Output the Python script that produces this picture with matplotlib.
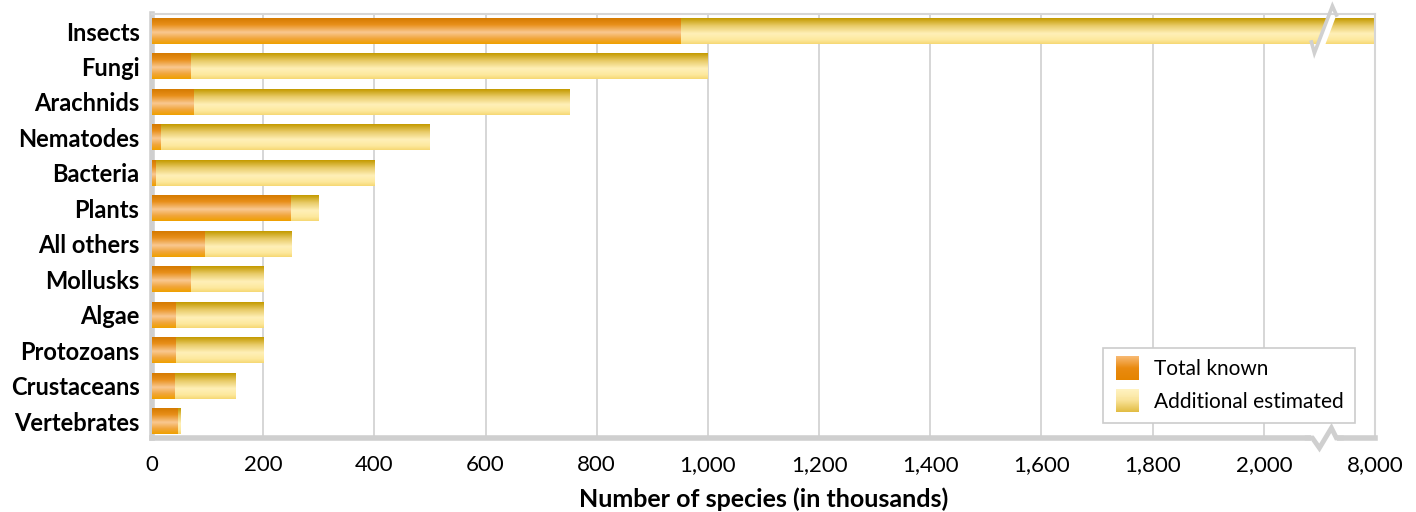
import numpy as np
import matplotlib
matplotlib.use("Agg")
from matplotlib import pyplot as plt
from matplotlib.colors import LinearSegmentedColormap
from matplotlib.patches import Rectangle, Polygon
from matplotlib.legend_handler import HandlerBase
from matplotlib.ticker import FixedLocator

plt.rcParams['font.family'] = ['Lato', 'DejaVu Sans']

groups = ['Insects', 'Fungi', 'Arachnids', 'Nematodes', 'Bacteria', 'Plants',
          'All others', 'Mollusks', 'Algae', 'Protozoans', 'Crustaceans', 'Vertebrates']
known = [950, 70, 75, 15, 6, 250, 95, 70, 43, 43, 41, 46]
total = [8000, 1000, 750, 500, 400, 300, 250, 200, 200, 200, 150, 51]
tick_vals = [0, 200, 400, 600, 800, 1000, 1200, 1400, 1600, 1800, 2000, 8000]

# broken axis: everything above 2000 is squeezed into the last slot
brk_lo, brk_hi, brk_pos = 2000, 8000, 2200


def squash(v):
    v = np.asarray(v, dtype=float)
    return np.where(v <= brk_lo, v, brk_lo + (v - brk_lo) / (brk_hi - brk_lo) * (brk_pos - brk_lo))


orange = LinearSegmentedColormap.from_list('or', [(0, '#d57a00'), (0.25, '#e88f1a'),
                                                  (0.55, '#f9c891'), (0.8, '#f1a53a'),
                                                  (1, '#efa000')])
yellow = LinearSegmentedColormap.from_list('ye', [(0, '#c49a00'), (0.3, '#e9cc6a'),
                                                  (0.6, '#fff0b8'), (0.85, '#fde89c'),
                                                  (1, '#f6d874')])
grad = np.linspace(0, 1, 64).reshape(-1, 1)

fig = plt.figure(figsize=(14.16, 5.12), dpi=100)
ax = fig.add_axes([152 / 1416, 1 - 438 / 512, (1375 - 152) / 1416, (438 - 14) / 512])

h = 0.73
y = np.arange(len(groups))
xk = squash(known)
xt = squash(total)
for i in range(len(groups)):
    ax.imshow(grad, cmap=yellow, aspect='auto', interpolation='bilinear',
              extent=(xk[i], xt[i], y[i] + h / 2, y[i] - h / 2), zorder=2)
    ax.imshow(grad, cmap=orange, aspect='auto', interpolation='bilinear',
              extent=(0, xk[i], y[i] + h / 2, y[i] - h / 2), zorder=3)

ax.set_xlim(0, brk_pos)
ax.set_ylim(11.47, -0.48)
ax.set_yticks(y)
ax.set_yticklabels(groups, fontsize=17, fontweight='bold')
ax.xaxis.set_major_locator(FixedLocator(squash(tick_vals)))
ax.set_xticklabels(['{:,}'.format(v) for v in tick_vals], fontsize=16)
ax.tick_params(axis='x', length=0, pad=12)
ax.tick_params(axis='y', length=0, pad=9)
ax.set_xlabel('Number of species (in thousands)', fontsize=18, fontweight='bold', labelpad=9)

ax.grid(axis='x', color='#d0d0d0', linewidth=1.2, zorder=0)
ax.set_axisbelow(True)
for s in ['top', 'right']:
    ax.spines[s].set_color('#d6d6d6')
    ax.spines[s].set_linewidth(1.5)
for s in ['left', 'bottom']:
    ax.spines[s].set_color('#cfcfcf')
    ax.spines[s].set_linewidth(4)

# break marks, drawn as pixel offsets around the break position
bx = (brk_lo + brk_pos) / 2
fig.canvas.draw()


def offset_points(pts_px, yval):
    base = ax.transData.transform((bx, yval))
    inv = ax.transData.inverted()
    return [inv.transform((base[0] + px, base[1] - py)) for px, py in pts_px]


band = offset_points([(-2.5, 14.5), (8.5, -14.5), (16.5, -14.5), (5.5, 14.5)], 0)
ax.add_patch(Polygon(band, closed=True, facecolor='white', edgecolor='none',
                     zorder=5, clip_on=False))
zig = offset_points([(-8, 11), (-5, 22), (13, -25), (17, -16)], 0)
ax.plot([p[0] for p in zig], [p[1] for p in zig], color='#d0d0d0', linewidth=2.6,
        zorder=6, clip_on=False, solid_joinstyle='miter')

bot_y = ax.get_ylim()[0]
cover = offset_points([(-8, -3), (18, -3), (18, 3), (-8, 3)], bot_y)
ax.add_patch(Polygon(cover, closed=True, facecolor='white', edgecolor='none',
                     zorder=5, clip_on=False))
zb = offset_points([(-12, 0), (-7, 0), (0, 10), (12, -10), (17, 0), (22, 0)], bot_y)
ax.plot([p[0] for p in zb], [p[1] for p in zb], color='#cfcfcf', linewidth=3.5,
        zorder=6, clip_on=False, solid_joinstyle='miter')


class GradHandler(HandlerBase):
    def __init__(self, cmap):
        super().__init__()
        self.cmap = cmap

    def create_artists(self, legend, orig, xd, yd, w, hgt, fontsize, trans):
        arts = []
        n = 24
        side = hgt * 1.6
        x0 = xd + (w - side) / 2
        y0 = yd - (side - hgt) / 2
        for k in range(n):
            c = self.cmap(1 - k / (n - 1))
            arts.append(Rectangle((x0, y0 + k * side / n), side, side / n + 0.1,
                                  facecolor=c, edgecolor='none', transform=trans))
        return arts


leg_or = LinearSegmentedColormap.from_list('lo', ['#f7b870', '#e98a10', '#e58400'])
leg_ye = LinearSegmentedColormap.from_list('ly', ['#fff2c0', '#f9e39a', '#e2bd45'])
h1 = Rectangle((0, 0), 1, 1)
h2 = Rectangle((0, 0), 1, 1)
leg = ax.legend([h1, h2], ['Total known', 'Additional estimated'],
                handler_map={h1: GradHandler(leg_or), h2: GradHandler(leg_ye)},
                loc='lower right', bbox_to_anchor=(0.984, 0.035), borderaxespad=0,
                fontsize=15, frameon=True, fancybox=False, edgecolor='#cccccc',
                framealpha=1, handlelength=1.25, handletextpad=0.65, borderpad=0.55,
                labelspacing=0.6)
leg.get_frame().set_linewidth(1.2)
leg.set_zorder(10)

fig.savefig('out.png', dpi=100)
